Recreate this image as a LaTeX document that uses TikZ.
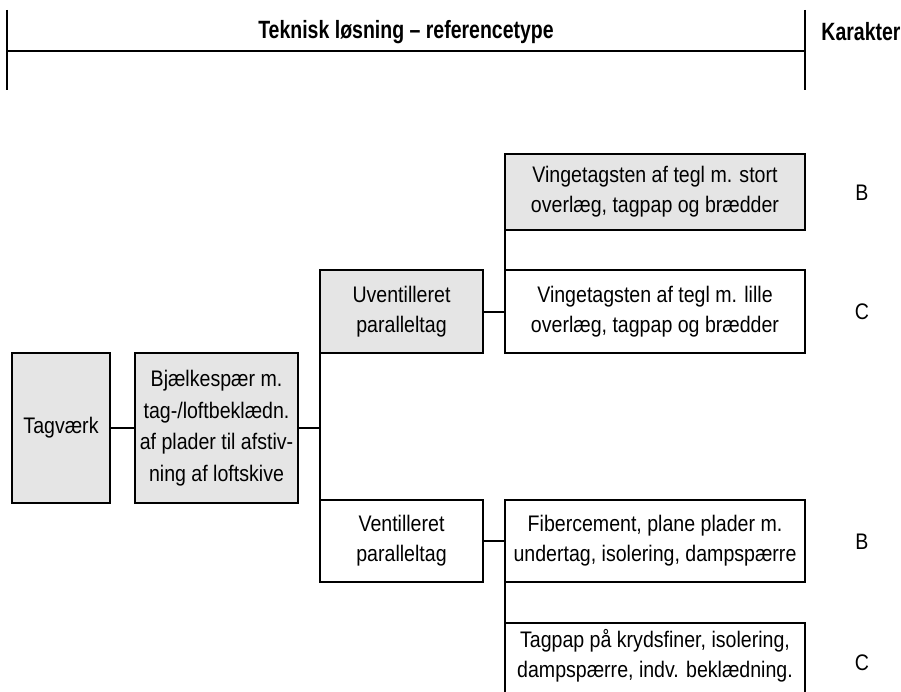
\documentclass[tikz,border=0pt]{standalone}
\usepackage{fontspec}
\setmainfont{Liberation Sans}[FakeStretch=0.87]
\newfontfamily\hdrfont{Liberation Sans}[FakeStretch=0.78]
\begin{document}
\begin{tikzpicture}[x=1pt,y=-1pt,
  box/.style={draw=black,line width=2pt,inner sep=0pt,outer sep=0pt,align=center,
    font=\fontsize{22.5}{30}\selectfont},
  graybox/.style={box,fill=black!10},
  conn/.style={line width=2pt},
  hdr/.style={font=\hdrfont\bfseries\fontsize{25}{28}\selectfont,inner sep=0pt},
  grade/.style={font=\fontsize{22.5}{26}\selectfont,inner sep=0pt}]
\clip (0,0) rectangle (901,692);
% header
\coordinate (hl1) at (7,10);
\coordinate (hl2) at (7,90);
\coordinate (hr1) at (805,10);
\coordinate (hr2) at (805,90);
\coordinate (hm1) at (7,51);
\coordinate (hm2) at (805,51);
\draw[conn] (hl1) -- (hl2);
\draw[conn] (hr1) -- (hr2);
\draw[conn] (hm1) -- (hm2);
\node[hdr] (title) at (406,32) {Teknisk løsning – referencetype};
\node[hdr] (kar) at (861,32) {Karakter};
% boxes
\node[graybox,minimum width=98pt,minimum height=150pt] (tag) at (61,428) {Tagværk};
\node[graybox,minimum width=163pt,minimum height=150pt,font=\fontsize{22.5}{31.5}\selectfont] (bj) at (216.5,428)
  {Bjælkespær m.\\tag-/loftbeklædn.\\af plader til afstiv-\\ning af loftskive};
\node[graybox,minimum width=163pt,minimum height=83pt] (uv) at (401.5,311.5) {Uventilleret\\paralleltag};
\node[box,minimum width=163pt,minimum height=82pt] (ve) at (401.5,541) {Ventilleret\\paralleltag};
\node[graybox,minimum width=300pt,minimum height=76pt] (vs) at (655,192) {Vingetagsten af tegl m. stort\\overlæg, tagpap og brædder};
\node[box,minimum width=300pt,minimum height=83pt] (vl) at (655,311.5) {Vingetagsten af tegl m. lille\\overlæg, tagpap og brædder};
\node[box,minimum width=300pt,minimum height=82pt] (fc) at (655,541) {Fibercement, plane plader m.\\undertag, isolering, dampspærre};
\node[box,minimum width=300pt,minimum height=84pt] (tp) at (655,665) {\raisebox{0pt}[0pt][0pt]{}\\[-38pt]Tagpap på krydsfiner, isolering,\\dampspærre, indv. beklædning.};
% grades
\node[grade] (g1) at (862,193) {B};
\node[grade] (g2) at (862,312) {C};
\node[grade] (g3) at (862,542) {B};
\node[grade] (g4) at (862,663) {C};
% connectors
\draw[conn] (tag.east) -- (bj.west);
\draw[conn] (bj.east) -- (bj.east -| uv.west);
\draw[conn] (uv.south west) -- (ve.north west);
\draw[conn] (uv.east) -- (vl.west);
\draw[conn] (vs.south west) -- (vl.north west);
\draw[conn] (ve.east) -- (fc.west);
\draw[conn] (fc.south west) -- (tp.north west);
\end{tikzpicture}
\end{document}
